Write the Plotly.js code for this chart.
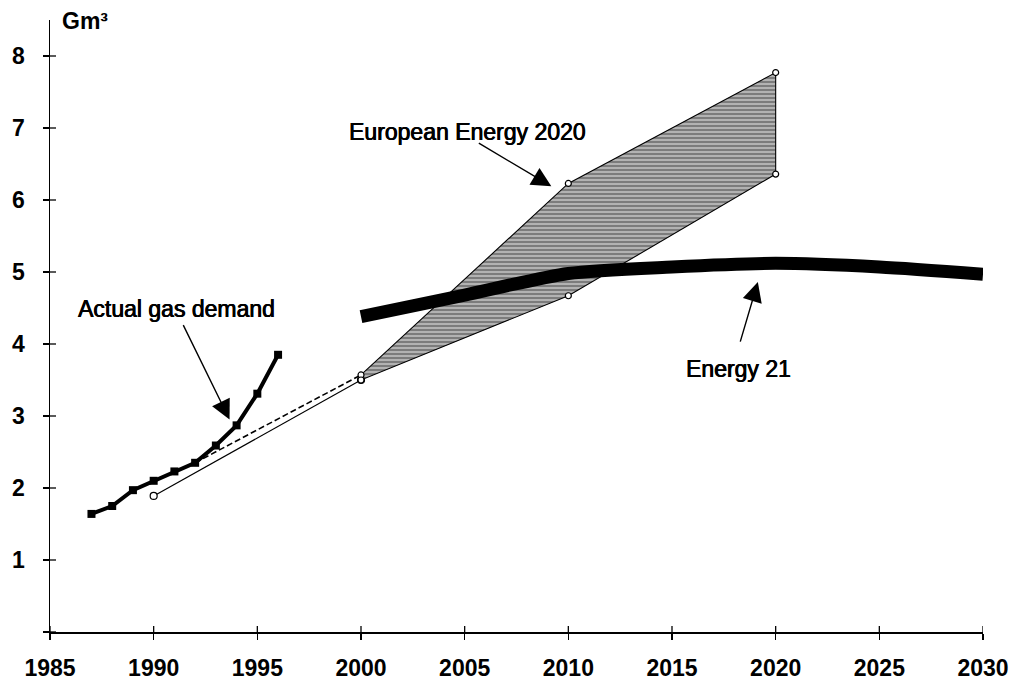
<!DOCTYPE html>
<html>
<head>
<meta charset="utf-8">
<script src="https://cdn.plot.ly/plotly-3.0.1.min.js"></script>
<style>html,body{margin:0;padding:0;background:#fff;}#chart{width:1021px;height:682px;}</style>
</head>
<body>
<div id="chart"></div>
<script>
// ---- data ----
const actualYears = [1987, 1988, 1989, 1990, 1991, 1992, 1993, 1994, 1995, 1996];
const actualDemand = [1.64, 1.75, 1.97, 2.10, 2.23, 2.35, 2.59, 2.87, 3.31, 3.85];

const trendLowYears = [1990, 2000];
const trendLowVals = [1.89, 3.50];
const trendHighYears = [1992, 2000];
const trendHighVals = [2.35, 3.57];

const ee2020Years = [2000, 2010, 2020];
const ee2020High = [3.57, 6.23, 7.77];
const ee2020Low = [3.50, 4.67, 6.36];

const e21Years = [2000, 2005, 2010, 2015, 2020, 2025, 2030];
const e21Vals = [4.38, 4.68, 4.98, 5.07, 5.12, 5.07, 4.97];

const xTicks = [1985, 1990, 1995, 2000, 2005, 2010, 2015, 2020, 2025, 2030];
const yTicks = [0, 1, 2, 3, 4, 5, 6, 7, 8];
const yTickText = ['', '1', '2', '3', '4', '5', '6', '7', '8'];
const yUnit = 'Gm³';
const labelEE = 'European Energy 2020';
const labelActual = 'Actual gas demand';
const labelE21 = 'Energy 21';

// ---- layout geometry ----
const W = 1021, H = 682;
const M = {l: 50, r: 38, t: 20, b: 50};
const xRange = [1985, 2030];
const yRange = [0, 8.5];
const tickLen = 6;
const xPerPx = (xRange[1] - xRange[0]) / (W - M.l - M.r);
const yPerPx = (yRange[1] - yRange[0]) / (H - M.t - M.b);

// inner halves of the crossing tick marks, built from the tick arrays
const innerTickX = [], innerTickY = [];
xTicks.forEach(v => { innerTickX.push(v, v, null); innerTickY.push(yRange[0], yRange[0] + tickLen * yPerPx, null); });
yTicks.forEach(v => { innerTickX.push(xRange[0], xRange[0] + tickLen * xPerPx, null); innerTickY.push(v, v, null); });

// ---- traces ----
const bandX = ee2020Years.concat(ee2020Years.slice().reverse(), [ee2020Years[0]]);
const bandY = ee2020High.concat(ee2020Low.slice().reverse(), [ee2020High[0]]);

const traces = [
  {x: bandX, y: bandY, mode: 'lines', fill: 'toself',
   fillcolor: '#a0a0a0',
   fillpattern: {shape: '-', fgcolor: '#7c7c7c', bgcolor: '#b2b2b2', size: 4, solidity: 0.5},
   line: {color: '#000', width: 1.1}, hoverinfo: 'skip'},
  {x: trendLowYears, y: trendLowVals, mode: 'lines+markers',
   line: {color: '#000', width: 1.2},
   marker: {symbol: 'circle', size: 7, color: '#fff', line: {color: '#000', width: 1.2}}},
  {x: trendHighYears, y: trendHighVals, mode: 'lines',
   line: {color: '#000', width: 1.6, dash: '6px,3px'}},
  {x: ee2020Years, y: ee2020High, mode: 'markers',
   marker: {symbol: 'circle', size: 6, color: '#fff', line: {color: '#000', width: 1.2}}},
  {x: ee2020Years, y: ee2020Low, mode: 'markers',
   marker: {symbol: 'circle', size: 6, color: '#fff', line: {color: '#000', width: 1.2}}},
  {x: e21Years, y: e21Vals, mode: 'lines', line: {color: '#000', width: 13, shape: 'spline', smoothing: 0.7}},
  {x: actualYears, y: actualDemand, mode: 'lines+markers',
   line: {color: '#000', width: 4},
   marker: {symbol: 'square', size: 8, color: '#000'}},
  {x: innerTickX, y: innerTickY, mode: 'lines', connectgaps: false, cliponaxis: false,
   line: {color: '#000', width: 1.3}, hoverinfo: 'skip'}
];

const tickFont = {family: 'Liberation Sans, Arial, sans-serif', size: 23, color: '#000', weight: 'bold'};
const annFont = {family: 'Liberation Sans, Arial, sans-serif', size: 23, color: '#000',
                 shadow: '0.5px 0 0 #000, -0.3px 0 0 #000'};

const layout = {
  width: W, height: H,
  margin: M,
  paper_bgcolor: '#fff', plot_bgcolor: '#fff',
  showlegend: false,
  xaxis: {range: xRange, tickvals: xTicks, ticks: 'outside', ticklen: tickLen, tickwidth: 1.3, tickcolor: '#000',
          showline: true, linecolor: '#000', linewidth: 1.5, showgrid: false, zeroline: false,
          tickfont: tickFont, ticklabelstandoff: 9},
  yaxis: {range: yRange, tickvals: yTicks, ticktext: yTickText, ticks: 'outside', ticklen: tickLen, tickwidth: 1.3, tickcolor: '#000',
          showline: true, linecolor: '#000', linewidth: 1.5, showgrid: false, zeroline: false,
          tickfont: tickFont, ticklabelstandoff: 13},
  annotations: [
    {xref: 'paper', yref: 'paper', x: 0.037, y: 0.998, text: '<b>' + yUnit + '</b>', showarrow: false,
     font: {family: 'Liberation Sans, Arial, sans-serif', size: 23, color: '#000'}, xanchor: 'center', yanchor: 'middle'},
    {x: 2005.12, y: 6.95, text: labelEE, showarrow: false, font: annFont, xanchor: 'center', yanchor: 'middle'},
    {x: 1991.08, y: 4.48, text: labelActual, showarrow: false, font: annFont, xanchor: 'center', yanchor: 'middle'},
    {x: 2018.21, y: 3.65, text: labelE21, showarrow: false, font: annFont, xanchor: 'center', yanchor: 'middle'},
    {x: 2009.18, y: 6.19, ax: -74, ay: -44, text: '', showarrow: true, arrowhead: 2, arrowsize: 2.8, arrowwidth: 1.4, arrowcolor: '#000'},
    {x: 1993.66, y: 2.95, ax: -47, ay: -96, text: '', showarrow: true, arrowhead: 2, arrowsize: 2.8, arrowwidth: 1.4, arrowcolor: '#000'},
    {x: 2019.14, y: 4.86, ax: -18, ay: 61, text: '', showarrow: true, arrowhead: 2, arrowsize: 2.8, arrowwidth: 1.4, arrowcolor: '#000'}
  ]
};

Plotly.newPlot('chart', traces, layout, {staticPlot: true, displayModeBar: false});
</script>
</body>
</html>
